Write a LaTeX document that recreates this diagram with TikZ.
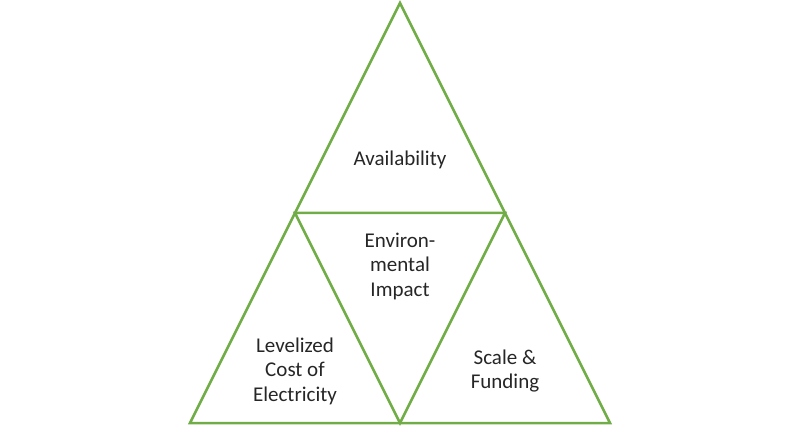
\documentclass[tikz,border=0pt]{standalone}
\usepackage{fontspec}
\setmainfont{Carlito}
\definecolor{tgreen}{RGB}{112,173,71}
\begin{document}
\begin{tikzpicture}[x=1pt,y=-1pt,
  tri/.style={draw=tgreen,line width=2.5pt,line join=miter},
  lbl/.style={align=center,font=\fontsize{21}{24.5}\selectfont,text=black!85}]
\useasboundingbox (0,0) rectangle (800,427);
\coordinate (A) at (400,3);
\coordinate (L) at (190,423);
\coordinate (R) at (610,423);
\coordinate (ML) at (295,213);
\coordinate (MR) at (505,213);
\coordinate (MB) at (400,423);
\draw[tri] (A) -- (R) -- (L) -- cycle;
\draw[tri] (ML) -- (MR) -- (MB) -- cycle;
\node[lbl] (avail) at (400,160) {Availability};
\node[lbl] (env) at (400,266) {Environ-\\mental\\Impact};
\node[lbl] (lcoe) at (295,371) {Levelized\\Cost of\\Electricity};
\node[lbl] (scale) at (505,371) {Scale \&\\Funding};
\end{tikzpicture}
\end{document}
